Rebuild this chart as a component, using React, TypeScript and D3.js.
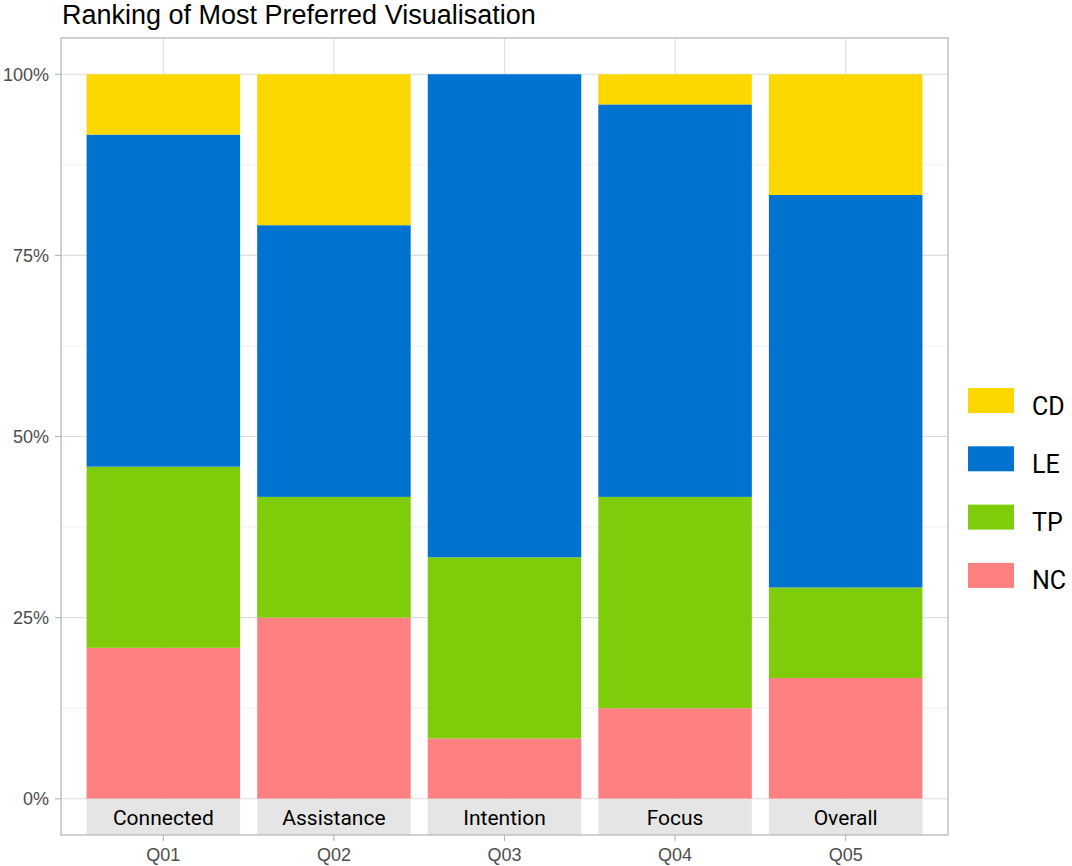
import React, { useEffect, useRef } from "react";
import * as d3 from "d3";

const questions = ["Q01", "Q02", "Q03", "Q04", "Q05"];
const stripLabels = ["Connected", "Assistance", "Intention", "Focus", "Overall"];
// responses out of 24 per question
const nc = [5, 6, 2, 3, 4];
const tp = [6, 4, 6, 7, 3];
const le = [11, 9, 16, 13, 13];
const cd = [2, 5, 0, 1, 4];
const seriesKeys = ["NC", "TP", "LE", "CD"];
const legendKeys = ["CD", "LE", "TP", "NC"];
const yTicks = [0, 0.25, 0.5, 0.75, 1];
const yMinor = [0.125, 0.375, 0.625, 0.875];

const colors: Record<string, string> = {
  CD: "#FFD700",
  LE: "#0073D1",
  TP: "#7FCC0A",
  NC: "#FF8080",
};

const App: React.FC = () => {
  const ref = useRef<SVGSVGElement>(null);

  useEffect(() => {
    if (!ref.current) return;
    const svg = d3.select(ref.current);
    svg.selectAll("*").remove();

    const left = 61;
    const right = 948;
    const top = 38;
    const bottom = 835;
    const font = "Roboto, 'Noto Sans', sans-serif";
    const axisFont = "'Liberation Sans', Arial, sans-serif";

    const rows = questions.map((q, i) => {
      const total = nc[i] + tp[i] + le[i] + cd[i];
      return {
        q,
        NC: nc[i] / total,
        TP: tp[i] / total,
        LE: le[i] / total,
        CD: cd[i] / total,
      };
    });

    const x = d3
      .scaleBand<string>()
      .domain(questions)
      .range([left, right])
      .paddingInner(0.1)
      .paddingOuter(0.15);
    const y = d3.scaleLinear().domain([-0.05, 1.05]).range([bottom, top]);

    // panel grid
    const grid = svg.append("g");
    grid
      .selectAll("line.minor")
      .data(yMinor)
      .enter()
      .append("line")
      .attr("x1", left)
      .attr("x2", right)
      .attr("y1", (d) => y(d))
      .attr("y2", (d) => y(d))
      .attr("stroke", "#E6E6E6")
      .attr("stroke-width", 0.6);
    grid
      .selectAll("line.major")
      .data(yTicks)
      .enter()
      .append("line")
      .attr("x1", left)
      .attr("x2", right)
      .attr("y1", (d) => y(d))
      .attr("y2", (d) => y(d))
      .attr("stroke", "#DEDEDE")
      .attr("stroke-width", 1.1);
    grid
      .selectAll("line.vert")
      .data(questions)
      .enter()
      .append("line")
      .attr("x1", (d) => x(d)! + x.bandwidth() / 2)
      .attr("x2", (d) => x(d)! + x.bandwidth() / 2)
      .attr("y1", top)
      .attr("y2", bottom)
      .attr("stroke", "#DEDEDE")
      .attr("stroke-width", 1.1);

    // stacked bars
    const stacked = d3.stack<any>().keys(seriesKeys)(rows);
    svg
      .append("g")
      .selectAll("g")
      .data(stacked)
      .enter()
      .append("g")
      .attr("fill", (d) => colors[d.key])
      .selectAll("rect")
      .data((d) => d)
      .enter()
      .append("rect")
      .attr("x", (d) => x(d.data.q)!)
      .attr("width", x.bandwidth())
      .attr("y", (d) => y(d[1]))
      .attr("height", (d) => y(d[0]) - y(d[1]));

    // label strips under the bars
    const strips = svg.append("g");
    strips
      .selectAll("rect")
      .data(questions)
      .enter()
      .append("rect")
      .attr("x", (d) => x(d)!)
      .attr("width", x.bandwidth())
      .attr("y", y(0))
      .attr("height", bottom - y(0))
      .attr("fill", "#E5E5E5");
    strips
      .selectAll("text")
      .data(questions)
      .enter()
      .append("text")
      .attr("x", (d) => x(d)! + x.bandwidth() / 2)
      .attr("y", (y(0) + bottom) / 2 + 1)
      .attr("dy", "0.36em")
      .attr("text-anchor", "middle")
      .attr("font-family", font)
      .attr("font-size", 21)
      .attr("fill", "#000")
      .text((d, i) => stripLabels[i]);

    // panel border
    svg
      .append("rect")
      .attr("x", left)
      .attr("y", top)
      .attr("width", right - left)
      .attr("height", bottom - top)
      .attr("fill", "none")
      .attr("stroke", "#B3B3B3")
      .attr("stroke-width", 1.2);

    // y axis
    const yAxis = svg.append("g");
    yAxis
      .selectAll("line")
      .data(yTicks)
      .enter()
      .append("line")
      .attr("x1", left - 6)
      .attr("x2", left)
      .attr("y1", (d) => y(d))
      .attr("y2", (d) => y(d))
      .attr("stroke", "#B3B3B3")
      .attr("stroke-width", 1.1);
    yAxis
      .selectAll("text")
      .data(yTicks)
      .enter()
      .append("text")
      .attr("x", left - 12)
      .attr("y", (d) => y(d))
      .attr("dy", "0.36em")
      .attr("text-anchor", "end")
      .attr("font-family", axisFont)
      .attr("font-size", 18)
      .attr("fill", "#4D4D4D")
      .text((d) => d3.format(".0%")(d));

    // x axis
    const xAxis = svg.append("g");
    xAxis
      .selectAll("line")
      .data(questions)
      .enter()
      .append("line")
      .attr("x1", (d) => x(d)! + x.bandwidth() / 2)
      .attr("x2", (d) => x(d)! + x.bandwidth() / 2)
      .attr("y1", bottom)
      .attr("y2", bottom + 6)
      .attr("stroke", "#B3B3B3")
      .attr("stroke-width", 1.1);
    xAxis
      .selectAll("text")
      .data(questions)
      .enter()
      .append("text")
      .attr("x", (d) => x(d)! + x.bandwidth() / 2)
      .attr("y", bottom + 20)
      .attr("dy", "0.36em")
      .attr("text-anchor", "middle")
      .attr("font-family", axisFont)
      .attr("font-size", 18)
      .attr("fill", "#4D4D4D")
      .text((d) => d);

    // title
    svg
      .append("text")
      .attr("x", 62)
      .attr("y", 24)
      .attr("font-family", axisFont)
      .attr("font-size", 27)
      .attr("fill", "#000")
      .text("Ranking of Most Preferred Visualisation");

    // legend
    const legend = svg
      .append("g")
      .selectAll("g")
      .data(legendKeys)
      .enter()
      .append("g")
      .attr("transform", (d, i) => `translate(968, ${388 + i * 58.3})`);
    legend
      .append("rect")
      .attr("width", 46)
      .attr("height", 25)
      .attr("fill", (d) => colors[d]);
    legend
      .append("text")
      .attr("x", 64)
      .attr("y", 17.5)
      .attr("dy", "0.36em")
      .attr("font-family", font)
      .attr("font-size", 25)
      .attr("fill", "#000")
      .text((d) => d);
  }, []);

  return (
    <svg
      ref={ref}
      width={1072}
      height={866}
      style={{ position: "absolute", left: 0, top: 0, background: "#fff" }}
    />
  );
};

export default App;
